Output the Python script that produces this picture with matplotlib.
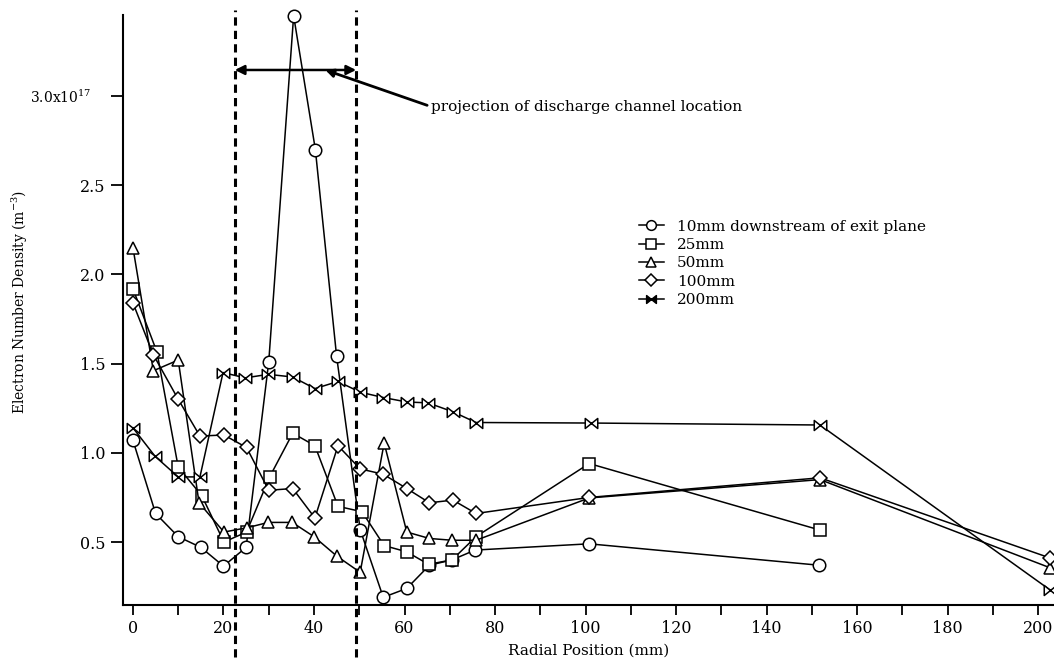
import matplotlib
matplotlib.use("Agg")
import matplotlib.pyplot as plt
import matplotlib.transforms as mtransforms
from matplotlib.path import Path
from matplotlib.lines import Line2D
from matplotlib.ticker import MultipleLocator

# -----------------------------
# Data
# -----------------------------
x10 = [0, 5, 10, 15, 20, 25, 30, 35.5, 40.3, 45, 50.2, 55.3, 60.5, 65.5, 70.5, 75.6, 100.8, 151.6]
y10 = [1.07, 0.66, 0.53, 0.47, 0.365, 0.47, 1.51, 3.45, 2.70, 1.54, 0.57, 0.19, 0.24, 0.37, 0.40, 0.455, 0.49, 0.37]

x25 = [0, 5.3, 10, 15.2, 20.1, 25.1, 30.2, 35.3, 40.2, 45.3, 50.6, 55.5, 60.5, 65.3, 70.5, 75.8, 100.8, 151.8]
y25 = [1.92, 1.565, 0.92, 0.76, 0.50, 0.556, 0.865, 1.11, 1.04, 0.70, 0.67, 0.48, 0.445, 0.375, 0.40, 0.53, 0.94, 0.567]

x50 = [0, 4.5, 10, 14.6, 20.1, 25.2, 29.9, 35.2, 40, 45.1, 50.2, 55.5, 60.5, 65.5, 70.5, 75.8, 100.8, 151.8, 202.7]
y50 = [2.15, 1.46, 1.52, 0.72, 0.556, 0.58, 0.61, 0.61, 0.53, 0.42, 0.33, 1.055, 0.556, 0.52, 0.51, 0.51, 0.747, 0.85, 0.355]

x100 = [0, 4.5, 10, 14.8, 20.1, 25.1, 30, 35.3, 40.2, 45.3, 50.2, 55.3, 60.5, 65.5, 70.7, 75.8, 100.8, 151.8, 202.7]
y100 = [1.84, 1.55, 1.30, 1.094, 1.10, 1.03, 0.79, 0.80, 0.635, 1.04, 0.91, 0.88, 0.80, 0.72, 0.735, 0.66, 0.75, 0.86, 0.41]

x200 = [0, 4.9, 10, 14.8, 19.9, 24.8, 29.9, 35.3, 40.2, 45.3, 50.2, 55.3, 60.5, 65.2, 70.7, 75.8, 101.2, 151.8, 202.7]
y200 = [1.14, 0.98, 0.865, 0.865, 1.45, 1.42, 1.44, 1.425, 1.36, 1.40, 1.34, 1.31, 1.285, 1.28, 1.23, 1.17, 1.167, 1.156, 0.23]

labels = ["10mm downstream of exit plane", "25mm", "50mm", "100mm", "200mm"]
channel_edges = [22.5, 49.3]
yticks = [0.5, 1.0, 1.5, 2.0, 2.5, 3.0]
yticklabels = ["0.5", "1.0", "1.5", "2.0", "2.5", "3.0x10$^{17}$"]

# -----------------------------
# Bowtie marker for 200mm
# -----------------------------
bowtie = Path(
    [(-1, -0.8), (-1, 0.8), (0, 0), (-1, -0.8), (1, -0.8), (1, 0.8), (0, 0), (1, -0.8)],
    [Path.MOVETO, Path.LINETO, Path.LINETO, Path.CLOSEPOLY,
     Path.MOVETO, Path.LINETO, Path.LINETO, Path.CLOSEPOLY],
)

plt.rcParams['font.family'] = ['DejaVu Serif']
plt.rcParams['mathtext.fontset'] = 'dejavuserif'

fig = plt.figure(figsize=(10.54, 6.68), dpi=100)
ax = fig.add_axes([0.1167, 0.0943, 0.8833, 0.8832])

style = dict(color='black', lw=1.1, mec='black', mfc='white', mew=1.1, clip_on=False)
series = [(x10, y10, 'o'), (x25, y25, 's'), (x50, y50, '^'), (x100, y100, 'D'), (x200, y200, bowtie)]
for (xs, ys, m), lab in zip(series, labels):
    ms = 7 if m == 'D' else 9
    ax.plot(xs, ys, marker=m, ms=ms, label=lab, **style)

# -----------------------------
# Discharge channel projection
# -----------------------------
for xe in channel_edges:
    ax.axvline(xe, ymin=-0.088, ymax=1.0085, clip_on=False, color='black',
               lw=2.2, ls=(0, (2.7, 1.7)))

ax.annotate('', xy=(channel_edges[0], 3.146), xytext=(channel_edges[1], 3.146),
            arrowprops=dict(arrowstyle='<|-|>', color='black', lw=1.8,
                            mutation_scale=14, shrinkA=0, shrinkB=0))
ax.annotate('projection of discharge channel location', xy=(42.5, 3.146),
            xytext=(65.9, 2.94), ha='left', va='center', fontsize=11,
            arrowprops=dict(arrowstyle='-|>', color='black', lw=2, relpos=(0, 0.5),
                            mutation_scale=12, shrinkA=1, shrinkB=0))

# -----------------------------
# Axes
# -----------------------------
ax.set_xlim(-2.2, 203.5)
ax.set_ylim(0.147, 3.454)
ax.xaxis.set_major_locator(MultipleLocator(20))
ax.xaxis.set_minor_locator(MultipleLocator(10))
ax.set_yticks(yticks)
ax.set_yticklabels(yticklabels)
ax.tick_params(which='both', direction='out', length=7, width=1.3, labelsize=11.5)
ax.tick_params(axis='y', length=9)
for s in ['top', 'right']:
    ax.spines[s].set_visible(False)
for s in ['left', 'bottom']:
    ax.spines[s].set_linewidth(1.5)

# top label sits smaller and further from its tick in the original
top_lab = ax.get_yticklabels()[-1]
top_lab.set_fontsize(10)
top_lab.set_transform(top_lab.get_transform() +
                      mtransforms.ScaledTranslation(-14 / 100, 0, fig.dpi_scale_trans))

ax.set_xlabel("Radial Position (mm)", fontsize=11, labelpad=5)
ax.set_ylabel("Electron Number Density (m$^{-3}$)", fontsize=10)
ax.yaxis.set_label_coords(-0.100, 0.5136)

# legend (200mm shown filled as in the original)
handles = []
for (xs, ys, m), lab in zip(series, labels):
    fc = 'black' if m is bowtie else 'white'
    handles.append(Line2D([], [], color='black', lw=1.1, marker=m, ms=7 if m != 'D' else 6,
                          mec='black', mfc=fc, mew=1.1, label=lab))
fig.legend(handles=handles, loc='upper left', bbox_to_anchor=(0.606, 0.671),
           frameon=False, fontsize=11, handlelength=1.65, handletextpad=0.85,
           labelspacing=0.28, borderpad=0, borderaxespad=0)

fig.savefig("out.png", dpi=100)
